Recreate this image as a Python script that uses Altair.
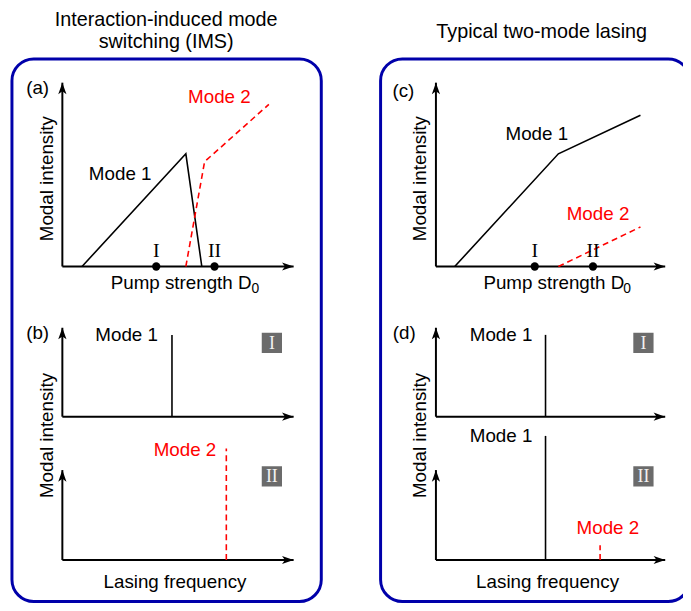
import altair as alt
import pandas as pd

# ---------------- data ----------------
# top panels: x = pump strength D0 (0-10 arb.), y = modal intensity (0-10 arb.)
ims_mode1_pump = [0.85, 5.34, 6.03]
ims_mode1_int = [0.0, 6.13, 0.0]
ims_mode2_pump = [5.34, 6.15, 8.93]
ims_mode2_int = [0.0, 5.70, 8.82]

typ_mode1_pump = [0.82, 5.34, 8.92]
typ_mode1_int = [0.0, 6.13, 8.23]
typ_mode2_pump = [5.34, 8.92]
typ_mode2_int = [0.0, 2.15]

point_names = ["I", "II"]
ims_points = [4.06, 6.58]
typ_points = [4.31, 6.85]

# bottom panels: x = lasing frequency (0-10 arb.), y = modal intensity
ims_I_freq, ims_I_height = [4.74], [9.2]           # mode 1 only
ims_II_freq, ims_II_height = [7.09], [12.4]        # mode 2 only
typ_I_freq, typ_I_height = [4.78], [9.2]           # mode 1 only
typ_II_m1_freq, typ_II_m1_height = [4.78], [13.8]  # mode 1
typ_II_m2_freq, typ_II_m2_height = [7.16], [1.65]  # mode 2 (weak)

FONT = "Liberation Sans"
SERIF = "Liberation Serif"
RED = "#ff0000"
BLUE = "#0000aa"
ARROW = "M0,0 L0.62,1.75 L0,1.3 L-0.62,1.75 Z"


def one():
    return pd.DataFrame({"k": [0]})


def panel(xr, yr, parts):
    sx = alt.Scale(domain=[0, 10], range=xr, nice=False, zero=False)
    sy = alt.Scale(domain=[0, 10], range=yr, nice=False, zero=False)

    def X(f, **kw):
        return alt.X(f, type="quantitative", scale=sx, axis=None, **kw)

    def Y(f, **kw):
        return alt.Y(f, type="quantitative", scale=sy, axis=None, **kw)

    layers = []
    axes = pd.DataFrame({"x": [0, 0], "y": [0, 0], "x2": [10, 0], "y2": [0, 10]})
    layers.append(alt.Chart(axes).mark_rule(color="black", strokeWidth=2).encode(
        x=X("x"), y=Y("y"), x2="x2:Q", y2="y2:Q"))
    heads = pd.DataFrame({"x": [10, 0], "y": [0, 10], "ang": [90, 0]})
    layers.append(alt.Chart(heads).mark_point(shape=ARROW, filled=True, size=180, color="black",
                                              opacity=1, strokeWidth=0).encode(
        x=X("x"), y=Y("y"), angle=alt.Angle("ang:Q", scale=None)))

    for kind, spec in parts:
        if kind == "line":
            xs, ys, col, dash = spec
            df = pd.DataFrame({"x": xs, "y": ys, "i": list(range(len(xs)))})
            kw = dict(color=col, strokeWidth=1.6)
            if dash:
                kw["strokeDash"] = [6, 4]
            layers.append(alt.Chart(df).mark_line(**kw).encode(x=X("x"), y=Y("y"), order="i:Q"))
        elif kind == "spike":
            xs, hs, col, dash = spec
            df = pd.DataFrame({"x": xs, "y0": [0] * len(xs), "h": hs})
            kw = dict(color=col, strokeWidth=1.6)
            if dash:
                kw["strokeDash"] = [6, 4]
            layers.append(alt.Chart(df).mark_rule(**kw).encode(x=X("x"), y=Y("y0"), y2="h:Q"))
        elif kind == "dots":
            xs, names, ly = spec
            df = pd.DataFrame({"x": xs, "y": [0] * len(xs), "name": names, "ly": [ly] * len(xs)})
            layers.append(alt.Chart(df).mark_point(filled=True, size=70, color="black", opacity=1).encode(
                x=X("x"), y=Y("y")))
            layers.append(alt.Chart(df).mark_text(font=SERIF, fontSize=20, color="black",
                                                  baseline="middle").encode(
                x=X("x"), y=Y("ly"), text="name:N"))
        elif kind == "badge":
            txt, bx, by = spec
            df = pd.DataFrame({"x": [bx], "y": [by], "t": [txt]})
            layers.append(alt.Chart(df).mark_square(size=420, color="#6b6b6b", opacity=1).encode(
                x=X("x"), y=Y("y")))
            layers.append(alt.Chart(df).mark_text(font=SERIF, fontSize=18, color="#f2f2f2",
                                                  baseline="middle", dy=1).encode(
                x=X("x"), y=Y("y"), text="t:N"))
        elif kind == "text":
            txt, tx, ty, opts = spec
            df = pd.DataFrame({"x": [tx], "y": [ty], "t": [txt]})
            kw = dict(font=FONT, fontSize=19, color="black", baseline="middle", align="center")
            kw.update(opts)
            layers.append(alt.Chart(df).mark_text(**kw).encode(x=X("x"), y=Y("y"), text="t:N"))
    return alt.layer(*layers)


ROT = {"angle": 270}
RED_T = {"color": RED}

panel_a = panel([55, 289], [258, 72], [
    ("line", (ims_mode1_pump, ims_mode1_int, "black", False)),
    ("line", (ims_mode2_pump, ims_mode2_int, RED, True)),
    ("dots", (ims_points, point_names, 0.85)),
    ("text", ("(a)", -1.07, 9.68, {})),
    ("text", ("Mode 1", 2.5, 5.03, {})),
    ("text", ("Mode 2", 6.79, 9.19, RED_T)),
    ("text", ("Modal intensity", -0.64, 4.78, ROT)),
    ("text", ("Pump strength D", 2.09, -0.91, {"align": "left"})),
    ("text", ("0", 8.18, -1.25, {"align": "left", "fontSize": 14})),
])

panel_c = panel([433, 665], [258, 72], [
    ("line", (typ_mode1_pump, typ_mode1_int, "black", False)),
    ("line", (typ_mode2_pump, typ_mode2_int, RED, True)),
    ("dots", (typ_points, point_names, 0.85)),
    ("text", ("(c)", -1.42, 9.57, {})),
    ("text", ("Mode 1", 4.4, 7.2, {})),
    ("text", ("Mode 2", 7.07, 2.85, RED_T)),
    ("text", ("Modal intensity", -0.69, 4.78, ROT)),
    ("text", ("Pump strength D", 2.07, -0.91, {"align": "left"})),
    ("text", ("0", 8.17, -1.25, {"align": "left", "fontSize": 14})),
])

panel_b1 = panel([55, 289], [410, 320], [
    ("spike", (ims_I_freq, ims_I_height, "black", False)),
    ("badge", ("I", 9.06, 8.3)),
    ("text", ("(b)", -1.07, 9.44, {})),
    ("text", ("Mode 1", 2.78, 9.2, {})),
])
panel_b2 = panel([55, 289], [555, 464], [
    ("spike", (ims_II_freq, ims_II_height, RED, True)),
    ("badge", ("II", 9.06, 9.3)),
    ("text", ("Mode 2", 5.3, 12.2, RED_T)),
    ("text", ("Modal intensity", -0.64, 13.85, ROT)),
    ("text", ("Lasing frequency", 4.87, -2.42, {})),
])
panel_d1 = panel([433, 665], [410, 320], [
    ("spike", (typ_I_freq, typ_I_height, "black", False)),
    ("badge", ("I", 9.05, 8.3)),
    ("text", ("(d)", -1.38, 9.44, {})),
    ("text", ("Mode 1", 2.84, 9.2, {})),
])
panel_d2 = panel([433, 665], [555, 464], [
    ("spike", (typ_II_m1_freq, typ_II_m1_height, "black", False)),
    ("spike", (typ_II_m2_freq, typ_II_m2_height, RED, True)),
    ("badge", ("II", 9.05, 9.3)),
    ("text", ("Mode 1", 2.84, 13.8, {})),
    ("text", ("Mode 2", 7.5, 3.6, RED_T)),
    ("text", ("Modal intensity", -0.69, 13.85, ROT)),
    ("text", ("Lasing frequency", 4.87, -2.42, {})),
])

# frames and column titles (layout decoration)
frames = []
for x1, x2 in [(4, 317), (377, 690)]:
    frames.append(alt.Chart(one()).mark_rect(fillOpacity=0, stroke=BLUE, strokeWidth=3,
                                             cornerRadius=22).encode(
        x=alt.value(x1), x2=alt.value(x2), y=alt.value(48), y2=alt.value(597)))
titles = []
for t, tx, ty in [("Interaction-induced mode", 160, 15), ("switching (IMS)", 160, 37),
                  ("Typical two-mode lasing", 540, 27)]:
    titles.append(alt.Chart(one()).mark_text(font=FONT, fontSize=20, color="black",
                                             baseline="alphabetic", align="center").encode(
        x=alt.value(tx), y=alt.value(ty), text=alt.value(t)))

chart = alt.layer(
    *frames, *titles, panel_a, panel_b1, panel_b2, panel_c, panel_d1, panel_d2
).resolve_scale(x="independent", y="independent").properties(
    width=683, height=600, padding=0, autosize=alt.AutoSizeParams(type="none"),
    background="white"
).configure_view(stroke=None)

chart.save("out.html", embed_options={"renderer": "svg", "actions": False})
